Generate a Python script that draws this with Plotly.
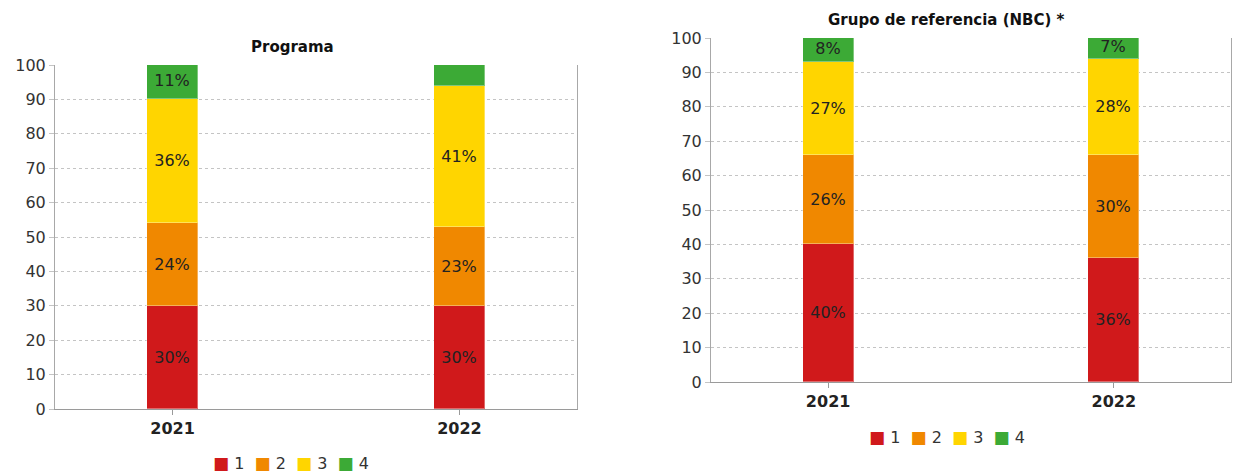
import plotly.graph_objects as go

# Years on the category axis
years = ["2021", "2022"]

# Level names and their colours
levels = ["1", "2", "3", "4"]
level_colors = ["#D0191B", "#F08800", "#FFD500", "#3CAA36"]

# Programa: percentage of students per level
programa_n1 = [30, 30]
programa_n2 = [24, 23]
programa_n3 = [36, 41]
programa_n4 = [11, 6]

# Grupo de referencia (NBC): percentage of students per level
nbc_n1 = [40, 36]
nbc_n2 = [26, 30]
nbc_n3 = [27, 28]
nbc_n4 = [8, 7]

y_ticks = list(range(0, 101, 10))

# Segments smaller than this are left without a value label
MIN_LABEL = 7

W, H = 1233, 473
FONT = "DejaVu Sans"

# pixel boxes of the two plot areas: (left, right, top, bottom)
boxes = [(55, 577, 65, 409), (711, 1231, 38, 382)]


def dom_x(b):
    return [b[0] / W, b[1] / W]


def dom_y(b):
    return [1 - b[3] / H, 1 - b[2] / H]


fig = go.Figure()

panels = [
    ("x", "y", [programa_n1, programa_n2, programa_n3, programa_n4]),
    ("x2", "y2", [nbc_n1, nbc_n2, nbc_n3, nbc_n4]),
]

for xa, ya, series in panels:
    for name, color, vals in zip(levels, level_colors, series):
        fig.add_trace(
            go.Bar(
                x=years,
                y=vals,
                name=name,
                xaxis=xa,
                yaxis=ya,
                width=0.178,
                marker=dict(color=color, line=dict(width=1, color="rgba(255,255,255,0.35)")),
                text=[f"{v}%" if v >= MIN_LABEL else "" for v in vals],
                textposition="inside",
                insidetextanchor="middle",
                textangle=0,
                constraintext="none",
                textfont=dict(family=FONT, size=16, color="#222222"),
                showlegend=False,
                hoverinfo="skip",
            )
        )

axis_common_x = dict(
    type="category",
    range=[-0.41, 1.41],
    automargin=False,
    showgrid=False,
    showline=True,
    linecolor="#9a9a9a",
    linewidth=1,
    ticks="outside",
    ticklen=5,
    tickcolor="#9a9a9a",
    tickfont=dict(family=FONT, size=16, color="#222222", weight="bold"),
    fixedrange=True,
)
axis_common_y = dict(
    range=[0, 100],
    tickvals=y_ticks,
    automargin=False,
    showgrid=True,
    gridcolor="#c4c4c4",
    griddash="3px,3px",
    gridwidth=1,
    zeroline=False,
    showline=True,
    linecolor="#a8a8a8",
    linewidth=1,
    mirror=True,
    ticks="outside",
    ticklen=5,
    tickcolor="#c4c4c4",
    tickfont=dict(family=FONT, size=16, color="#333333"),
    fixedrange=True,
)

fig.update_layout(
    width=W,
    height=H,
    autosize=False,
    margin=dict(l=0, r=0, t=0, b=0, autoexpand=False),
    paper_bgcolor="white",
    plot_bgcolor="white",
    barmode="stack",
    bargap=0,
    xaxis=dict(domain=dom_x(boxes[0]), anchor="y", **axis_common_x),
    yaxis=dict(domain=dom_y(boxes[0]), anchor="x", **axis_common_y),
    xaxis2=dict(domain=dom_x(boxes[1]), anchor="y2", **axis_common_x),
    yaxis2=dict(domain=dom_y(boxes[1]), anchor="x2", **axis_common_y),
)

# Panel titles
titles = [("Programa", 292, 47), ("Grupo de referencia (NBC) *", 946, 20)]
for text, px, py in titles:
    fig.add_annotation(
        text=f"<b>{text}</b>",
        x=px / W,
        y=1 - py / H,
        xref="paper",
        yref="paper",
        xanchor="center",
        yanchor="middle",
        showarrow=False,
        font=dict(family=FONT, size=15, color="#111111"),
    )

# Legends below each panel, built from the level names and colours
legend_text = "&nbsp;&nbsp;".join(
    f"<span style='color:{c};font-size:17px'>■</span>&nbsp;{n}"
    for n, c in zip(levels, level_colors)
)
for px, py in [(291, 463), (947, 437)]:
    fig.add_annotation(
        text=legend_text,
        x=px / W,
        y=1 - py / H,
        xref="paper",
        yref="paper",
        xanchor="center",
        yanchor="middle",
        showarrow=False,
        font=dict(family=FONT, size=16, color="#333333"),
    )

fig.write_html("out.html")
